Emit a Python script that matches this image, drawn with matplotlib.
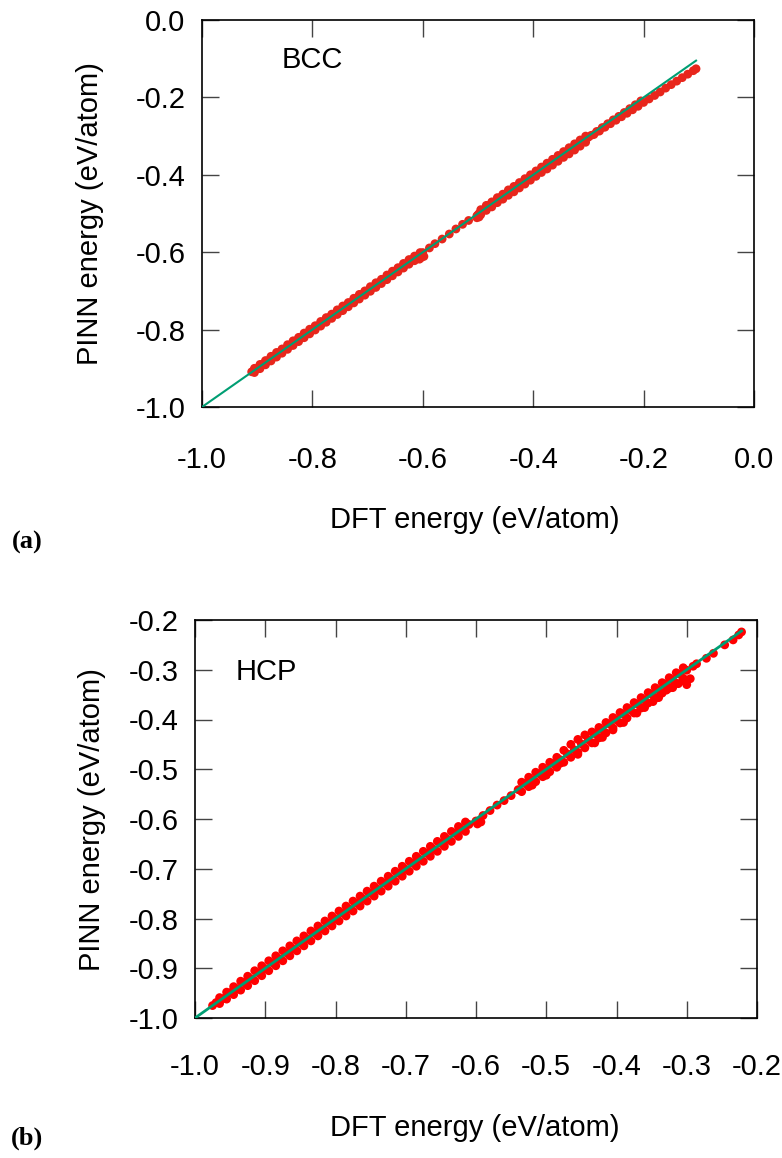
import matplotlib
matplotlib.use("Agg")
import matplotlib.pyplot as plt

# ================= BCC data (DFT, PINN) =================
# low-energy dense band: centre / upper / lower rows
bcc_dft_a = [-0.910, -0.900, -0.890, -0.880, -0.870, -0.860, -0.850, -0.840, -0.830, -0.820,
             -0.810, -0.800, -0.790, -0.780, -0.770, -0.760, -0.750, -0.740, -0.730, -0.720,
             -0.710, -0.700, -0.690, -0.680, -0.670, -0.660, -0.650, -0.640, -0.630, -0.620,
             -0.610, -0.600]
bcc_pinn_a = [-0.909, -0.901, -0.889, -0.880, -0.871, -0.859, -0.850, -0.841, -0.829, -0.820,
              -0.811, -0.799, -0.790, -0.781, -0.769, -0.760, -0.751, -0.739, -0.730, -0.721,
              -0.709, -0.700, -0.691, -0.679, -0.670, -0.661, -0.649, -0.640, -0.631, -0.619,
              -0.610, -0.601]
bcc_dft_b = [-0.905, -0.895, -0.885, -0.875, -0.865, -0.855, -0.845, -0.835, -0.825, -0.815,
             -0.805, -0.795, -0.785, -0.775, -0.765, -0.755, -0.745, -0.735, -0.725, -0.715,
             -0.705, -0.695, -0.685, -0.675, -0.665, -0.655, -0.645, -0.635, -0.625, -0.615,
             -0.605]
bcc_pinn_b_up = [-0.900, -0.890, -0.880, -0.869, -0.859, -0.850, -0.839, -0.829, -0.820, -0.809,
                 -0.799, -0.790, -0.779, -0.769, -0.760, -0.749, -0.739, -0.730, -0.719, -0.709,
                 -0.700, -0.689, -0.679, -0.670, -0.659, -0.649, -0.640, -0.629, -0.619, -0.610,
                 -0.601]
bcc_pinn_b_dn = [-0.911, -0.901, -0.891, -0.881, -0.871, -0.861, -0.851, -0.841, -0.831, -0.821,
                 -0.811, -0.801, -0.791, -0.781, -0.771, -0.761, -0.751, -0.741, -0.731, -0.721,
                 -0.711, -0.701, -0.691, -0.681, -0.671, -0.661, -0.651, -0.641, -0.631, -0.622,
                 -0.613]
# small blob at the end of the band, then isolated points
bcc_dft_c = [-0.606, -0.603, -0.598, -0.588, -0.578, -0.565, -0.552, -0.540, -0.528, -0.517]
bcc_pinn_c = [-0.618, -0.614, -0.611, -0.589, -0.578, -0.566, -0.553, -0.540, -0.528, -0.518]
# middle band
bcc_dft_d = [-0.500, -0.490, -0.480, -0.470, -0.460, -0.450, -0.440, -0.430, -0.420, -0.410,
             -0.400, -0.390, -0.380, -0.370, -0.360, -0.350, -0.340, -0.330, -0.320, -0.310,
             -0.300]
bcc_pinn_d = [-0.503, -0.491, -0.479, -0.471, -0.459, -0.451, -0.440, -0.431, -0.421, -0.412,
              -0.401, -0.392, -0.381, -0.372, -0.362, -0.352, -0.342, -0.333, -0.322, -0.313,
              -0.303]
bcc_dft_e = [-0.502, -0.498, -0.495, -0.485, -0.475, -0.465, -0.455, -0.445, -0.435, -0.425,
             -0.415, -0.405, -0.395, -0.385, -0.375, -0.365, -0.355, -0.345, -0.335, -0.325,
             -0.315, -0.305]
bcc_pinn_e_up = [-0.506, -0.500, -0.490, -0.479, -0.470, -0.459, -0.450, -0.439, -0.430, -0.420,
                 -0.410, -0.400, -0.390, -0.380, -0.370, -0.360, -0.350, -0.340, -0.330, -0.320,
                 -0.310, -0.300]
bcc_pinn_e_dn = [-0.511, -0.509, -0.503, -0.492, -0.483, -0.472, -0.463, -0.453, -0.444, -0.434,
                 -0.424, -0.414, -0.404, -0.394, -0.385, -0.375, -0.365, -0.355, -0.346, -0.336,
                 -0.326, -0.316]
# high-energy tail, PINN falls below DFT
bcc_dft_f = [-0.290, -0.280, -0.270, -0.260, -0.250, -0.240, -0.230, -0.220, -0.210, -0.200,
             -0.190, -0.180, -0.170, -0.160, -0.150, -0.140, -0.130, -0.120, -0.110, -0.105]
bcc_pinn_f = [-0.296, -0.287, -0.277, -0.268, -0.259, -0.250, -0.241, -0.232, -0.223, -0.213,
              -0.204, -0.195, -0.186, -0.176, -0.167, -0.158, -0.149, -0.140, -0.131, -0.126]
bcc_dft_g = [-0.295, -0.285, -0.275, -0.265, -0.255, -0.245, -0.235, -0.225, -0.215, -0.205]
bcc_pinn_g = [-0.298, -0.288, -0.278, -0.268, -0.258, -0.249, -0.239, -0.229, -0.219, -0.209]
bcc_line = [-1.0, -0.105]

# ================= HCP data (DFT, PINN) =================
hcp_dft_a = [-0.975, -0.970, -0.960, -0.950, -0.940, -0.930, -0.920, -0.910, -0.900, -0.890,
             -0.880, -0.870, -0.860, -0.850, -0.840, -0.830, -0.820, -0.810, -0.800, -0.790,
             -0.780, -0.770, -0.760, -0.750, -0.740, -0.730, -0.720, -0.710, -0.700, -0.690,
             -0.680, -0.670, -0.660, -0.650, -0.640, -0.630, -0.620, -0.610]
hcp_pinn_a = [-0.975, -0.969, -0.961, -0.949, -0.941, -0.929, -0.921, -0.909, -0.901, -0.889,
              -0.881, -0.869, -0.861, -0.849, -0.841, -0.829, -0.821, -0.809, -0.801, -0.789,
              -0.781, -0.769, -0.761, -0.749, -0.741, -0.729, -0.721, -0.709, -0.701, -0.689,
              -0.681, -0.669, -0.661, -0.649, -0.641, -0.629, -0.621, -0.611]
hcp_dft_b = [-0.965, -0.955, -0.945, -0.935, -0.925, -0.915, -0.905, -0.895, -0.885, -0.875,
             -0.865, -0.855, -0.845, -0.835, -0.825, -0.815, -0.805, -0.795, -0.785, -0.775,
             -0.765, -0.755, -0.745, -0.735, -0.725, -0.715, -0.705, -0.695, -0.685, -0.675,
             -0.665, -0.655, -0.645, -0.635, -0.625, -0.615]
hcp_pinn_b_up = [-0.959, -0.948, -0.937, -0.926, -0.916, -0.905, -0.895, -0.885, -0.875, -0.865,
                 -0.855, -0.845, -0.835, -0.825, -0.815, -0.805, -0.795, -0.785, -0.775, -0.765,
                 -0.755, -0.745, -0.735, -0.725, -0.715, -0.705, -0.695, -0.685, -0.675, -0.665,
                 -0.655, -0.645, -0.635, -0.625, -0.615, -0.606]
hcp_pinn_b_dn = [-0.971, -0.962, -0.953, -0.944, -0.935, -0.925, -0.915, -0.905, -0.895, -0.885,
                 -0.875, -0.865, -0.855, -0.845, -0.835, -0.825, -0.815, -0.805, -0.795, -0.785,
                 -0.775, -0.765, -0.755, -0.745, -0.735, -0.725, -0.715, -0.705, -0.695, -0.685,
                 -0.675, -0.665, -0.655, -0.645, -0.635, -0.625]
# isolated points in the gap
hcp_dft_c = [-0.600, -0.598, -0.593, -0.590, -0.580, -0.570, -0.560, -0.550]
hcp_pinn_c = [-0.604, -0.610, -0.606, -0.593, -0.583, -0.572, -0.563, -0.553]
# middle band
hcp_dft_d = [-0.540, -0.530, -0.520, -0.510, -0.500, -0.490, -0.480, -0.470, -0.460, -0.450,
             -0.440, -0.430, -0.420, -0.410, -0.400, -0.390, -0.380, -0.370, -0.360, -0.350,
             -0.340, -0.330, -0.320, -0.310, -0.300]
hcp_pinn_d = [-0.541, -0.529, -0.521, -0.509, -0.501, -0.489, -0.481, -0.469, -0.461, -0.449,
              -0.441, -0.429, -0.421, -0.409, -0.401, -0.389, -0.381, -0.369, -0.361, -0.349,
              -0.341, -0.329, -0.321, -0.309, -0.301]
hcp_dft_e = [-0.535, -0.525, -0.515, -0.505, -0.495, -0.485, -0.475, -0.465, -0.455, -0.445,
             -0.435, -0.425, -0.415, -0.405, -0.395, -0.385, -0.375, -0.365, -0.355, -0.345,
             -0.335, -0.325, -0.315, -0.305]
hcp_pinn_e_up = [-0.526, -0.516, -0.506, -0.496, -0.486, -0.476, -0.462, -0.450, -0.440, -0.431,
                 -0.425, -0.416, -0.406, -0.396, -0.386, -0.376, -0.366, -0.356, -0.346, -0.336,
                 -0.326, -0.316, -0.306, -0.296]
hcp_pinn_e_dn = [-0.545, -0.535, -0.525, -0.515, -0.505, -0.496, -0.486, -0.476, -0.466, -0.457,
                 -0.447, -0.437, -0.427, -0.417, -0.407, -0.397, -0.387, -0.377, -0.367, -0.357,
                 -0.347, -0.337, -0.327, -0.317]
hcp_dft_f = [-0.520, -0.500, -0.480, -0.455, -0.431, -0.420, -0.405, -0.390, -0.371, -0.360,
             -0.348, -0.340, -0.329, -0.320, -0.312, -0.305, -0.300, -0.295]
hcp_pinn_f = [-0.532, -0.512, -0.488, -0.470, -0.447, -0.436, -0.421, -0.406, -0.387, -0.376,
              -0.364, -0.356, -0.341, -0.336, -0.328, -0.322, -0.330, -0.318]
# sparse high-energy points
hcp_dft_g = [-0.291, -0.286, -0.272, -0.262, -0.246, -0.234, -0.226, -0.222]
hcp_pinn_g = [-0.293, -0.288, -0.277, -0.267, -0.250, -0.240, -0.230, -0.224]
hcp_line = [-1.0, -0.222]

bcc_ticks = [-1.0, -0.8, -0.6, -0.4, -0.2, 0.0]
hcp_ticks = [-1.0, -0.9, -0.8, -0.7, -0.6, -0.5, -0.4, -0.3, -0.2]

bcc_x = bcc_dft_a + bcc_dft_b + bcc_dft_b + bcc_dft_c + bcc_dft_d + bcc_dft_e + bcc_dft_e + bcc_dft_f + bcc_dft_g
bcc_y = bcc_pinn_a + bcc_pinn_b_up + bcc_pinn_b_dn + bcc_pinn_c + bcc_pinn_d + bcc_pinn_e_up + bcc_pinn_e_dn + bcc_pinn_f + bcc_pinn_g
hcp_x = hcp_dft_a + hcp_dft_b + hcp_dft_b + hcp_dft_c + hcp_dft_d + hcp_dft_e + hcp_dft_e + hcp_dft_f + hcp_dft_g
hcp_y = hcp_pinn_a + hcp_pinn_b_up + hcp_pinn_b_dn + hcp_pinn_c + hcp_pinn_d + hcp_pinn_e_up + hcp_pinn_e_dn + hcp_pinn_f + hcp_pinn_g

# ================= figure =================
W, H = 782, 1158
fig = plt.figure(figsize=(W / 100, H / 100), dpi=100)
plt.rcParams['font.family'] = ['Liberation Sans', 'DejaVu Sans']

RED_TOP = '#e8261c'
RED_BOT = '#ff0000'
GREEN = '#009e73'
FS = 21
MS = 40


def style(ax, ticks, xpad, ypad):
    ax.set_xticks(ticks)
    ax.set_yticks(ticks)
    ax.set_xticklabels([f"{t:.1f}" for t in ticks])
    ax.set_yticklabels([f"{t:.1f}" for t in ticks])
    ax.tick_params(axis='both', which='both', direction='in', length=12, width=1.0,
                   color='#444444', labelsize=FS, top=True, right=True)
    ax.tick_params(axis='x', pad=xpad)
    ax.tick_params(axis='y', pad=ypad)
    for s in ax.spines.values():
        s.set_linewidth(1.2)
        s.set_color('black')


def px_axes(l, t, r, b):
    return fig.add_axes([l / W, 1 - b / H, (r - l) / W, (b - t) / H])


# top panel
ax1 = px_axes(202, 20, 754, 407)
ax1.scatter(bcc_x, bcc_y, s=MS, color=RED_TOP, edgecolors='none', zorder=2)
ax1.plot(bcc_line, bcc_line, color=GREEN, lw=1.5, zorder=3)
ax1.set_xlim(-1.0, 0.0)
ax1.set_ylim(-1.0, 0.0)
style(ax1, bcc_ticks, 28, 12)
ax1.text(-0.856, -0.103, 'BCC', fontsize=FS, ha='left', va='center')

# bottom panel
ax2 = px_axes(195, 620, 757, 1018)
ax2.scatter(hcp_x, hcp_y, s=MS, color=RED_BOT, edgecolors='none', zorder=2)
ax2.plot(hcp_line, hcp_line, color=GREEN, lw=2.0, zorder=3)
ax2.set_xlim(-1.0, -0.2)
ax2.set_ylim(-1.0, -0.2)
style(ax2, hcp_ticks, 25, 12)
ax2.text(-0.942, -0.305, 'HCP', fontsize=FS, ha='left', va='center')

# axis labels placed in pixels
fig.text(475 / W, 1 - 520 / H, 'DFT energy (eV/atom)', fontsize=FS, ha='center', va='center')
fig.text(90 / W, 1 - 214 / H, 'PINN energy (eV/atom)', fontsize=FS, ha='center', va='center',
         rotation=90)
fig.text(475 / W, 1 - 1128 / H, 'DFT energy (eV/atom)', fontsize=FS, ha='center', va='center')
fig.text(92 / W, 1 - 820 / H, 'PINN energy (eV/atom)', fontsize=FS, ha='center', va='center',
         rotation=90)

fig.text(27 / W, 1 - 542 / H, '(a)', fontsize=19, ha='center', va='center',
         family='Liberation Serif', weight='bold')
fig.text(27 / W, 1 - 1138 / H, '(b)', fontsize=19, ha='center', va='center',
         family='Liberation Serif', weight='bold')

fig.savefig('out.png', dpi=100)
